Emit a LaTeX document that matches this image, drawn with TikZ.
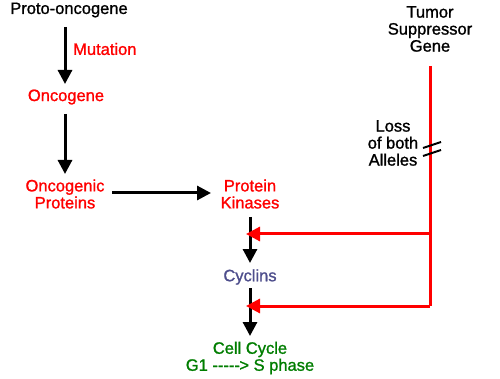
\documentclass[tikz,border=0pt]{standalone}
\usepackage{fontspec}
\newfontfamily\lib[FakeBold=1.2]{Liberation Sans}
\usetikzlibrary{arrows.meta}
\definecolor{myred}{RGB}{255,0,0}
\definecolor{cyc}{RGB}{78,78,140}
\definecolor{cc}{RGB}{0,125,0}
\begin{document}
\begin{tikzpicture}[x=1pt,y=-1pt,
  lbl/.style={font=\lib\fontsize{16.5}{17}\selectfont, align=center, inner sep=0pt},
  blk/.style={line width=3pt, -{Triangle[length=14pt,width=14pt]}},
  rd/.style={line width=3pt, draw=myred, -{Triangle[length=14pt,width=14pt]}, myred}]
\useasboundingbox (0,0) rectangle (500,379);
\node[lbl] (proto) at (69,10) {Proto-oncogene};
\node[lbl, text=myred, anchor=west] (mut) at (73,49) {Mutation};
\node[lbl, text=myred] (onco) at (66,97) {Oncogene};
\node[lbl, text=myred] (ocp) at (65,194) {Oncogenic\\Proteins};
\node[lbl, text=myred] (pk) at (250,194) {Protein\\Kinases};
\node[lbl, text=cyc] (cyc) at (250,277) {Cyclins};
\node[lbl, text=cc] (cell) at (250,358) {Cell Cycle\\G1 -{}-{}-{}-{}-\kern-0.5pt> S phase};
\node[lbl] (tsg) at (430,29) {Tumor\\Suppressor\\Gene};
\node[lbl] (loss) at (393,143) {Loss\\of both\\Alleles};
\coordinate (a1s) at (65,27); \coordinate (a1e) at (65,84);
\coordinate (a2s) at (65,114); \coordinate (a2e) at (65,174);
\coordinate (hs) at (112,193); \coordinate (he) at (211,193);
\coordinate (k1) at (250,217); \coordinate (k2) at (250,263);
\coordinate (c1) at (250,288); \coordinate (c2) at (250,336);
\coordinate (t0) at (430,66); \coordinate (t1) at (430,234); \coordinate (t2) at (430,306);
\coordinate (r1) at (246,234); \coordinate (r2) at (246,306);
\draw[blk] (a1s) -- (a1e);
\draw[blk] (a2s) -- (a2e);
\draw[blk] (hs) -- (he);
\draw[blk] (k1) -- (k2);
\draw[blk] (c1) -- (c2);
\draw[line width=3pt, myred] (t0) -- (t2);
\draw[rd] (t1) -- (r1);
\draw[rd] (t2) -- (r2);
\draw[line width=2pt] (423,148) -- (441,142);
\draw[line width=2pt] (423,156) -- (441,150);
\end{tikzpicture}
\end{document}
